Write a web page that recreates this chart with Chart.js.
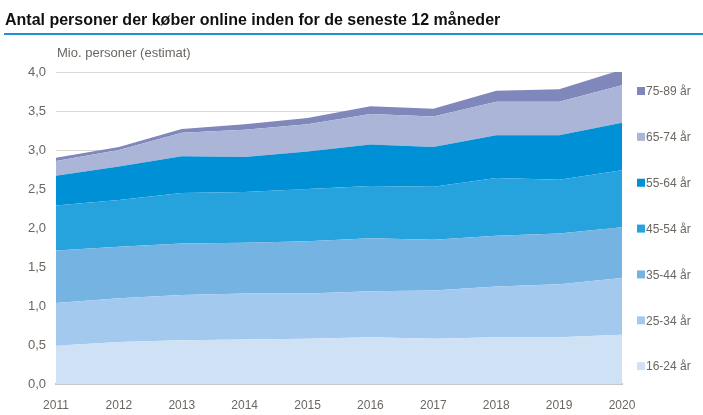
<!DOCTYPE html>
<html lang="da">
<head>
  <meta charset="utf-8">
  <title>Antal personer der køber online</title>
  <script src="https://cdn.jsdelivr.net/npm/chart.js@4.4.0/dist/chart.umd.min.js"></script>
  <style>
    html, body { margin: 0; padding: 0; background: #fff; }
    canvas { display: block; }
  </style>
</head>
<body>
  <canvas id="chart-0" width="703" height="415"></canvas>

  <script>
    const years = ['2011', '2012', '2013', '2014', '2015', '2016', '2017', '2018', '2019', '2020'];

    // mio. personer per aldersgruppe
    const age16_24 = [0.49, 0.54, 0.56, 0.57, 0.58, 0.60, 0.58, 0.60, 0.60, 0.63];
    const age25_34 = [0.55, 0.56, 0.58, 0.59, 0.58, 0.59, 0.62, 0.65, 0.68, 0.73];
    const age35_44 = [0.67, 0.66, 0.66, 0.65, 0.67, 0.68, 0.65, 0.65, 0.65, 0.65];
    const age45_54 = [0.58, 0.60, 0.65, 0.65, 0.67, 0.67, 0.68, 0.74, 0.69, 0.73];
    const age55_64 = [0.38, 0.43, 0.47, 0.45, 0.48, 0.53, 0.51, 0.55, 0.57, 0.61];
    const age65_74 = [0.19, 0.21, 0.30, 0.35, 0.35, 0.39, 0.39, 0.43, 0.43, 0.48];
    const age75_89 = [0.04, 0.04, 0.05, 0.07, 0.08, 0.10, 0.10, 0.14, 0.16, 0.20];

    const seriesLabels = ['16-24 år', '25-34 år', '35-44 år', '45-54 år', '55-64 år', '65-74 år', '75-89 år'];
    const seriesData = [age16_24, age25_34, age35_44, age45_54, age55_64, age65_74, age75_89];
    const colors = ['#cfe1f5', '#a3caee', '#74b3e2', '#26a2dd', '#0090d5', '#abb5d7', '#8088bb'];

    const titleText = 'Antal personer der køber online inden for de seneste 12 måneder';
    const axisNote = 'Mio. personer (estimat)';

    const textColor = '#6b6661';
    const fontFamily = 'Arial, "Liberation Sans", sans-serif';

    let datasets = seriesData.map(function(values, i) {
      return {
        label: seriesLabels[i],
        data: values,
        backgroundColor: colors[i],
        borderColor: colors[i],
        borderWidth: 0,
        pointRadius: 0,
        tension: 0,
        fill: i === 0 ? 'origin' : '-1'
      };
    });

    // title, blue rule, axis note and the spread-out legend
    let decorations = {
      id: 'decorations',
      afterDraw(chart) {
        let ctx = chart.ctx;
        let area = chart.chartArea;
        ctx.save();

        ctx.fillStyle = '#111';
        ctx.font = 'bold 16px ' + fontFamily;
        ctx.textBaseline = 'alphabetic';
        ctx.textAlign = 'left';
        ctx.fillText(titleText, 5, 25);

        ctx.strokeStyle = '#1f8fd6';
        ctx.lineWidth = 2;
        ctx.beginPath();
        ctx.moveTo(4, 34);
        ctx.lineTo(703, 34);
        ctx.stroke();

        ctx.fillStyle = textColor;
        ctx.font = '13px ' + fontFamily;
        ctx.fillText(axisNote, area.left + 1, 57);

        // legend, top entry = last dataset
        let step = (area.bottom - area.top) * 0.147;
        ctx.font = '12px ' + fontFamily;
        ctx.textBaseline = 'middle';
        for (let i = 0; i < seriesLabels.length; i++) {
          let idx = seriesLabels.length - 1 - i;
          let y = area.top + 19 + i * step;
          ctx.fillStyle = colors[idx];
          ctx.fillRect(area.right + 15, y - 4, 8, 8);
          ctx.fillStyle = textColor;
          ctx.fillText(seriesLabels[idx], area.right + 24, y + 1);
        }
        ctx.restore();
      }
    };

    let chart = new Chart('chart-0', {
      type: 'line',
      data: {
        labels: years,
        datasets: datasets
      },
      options: {
        responsive: false,
        animation: false,
        layout: {
          padding: { top: 72, right: 81, bottom: 5, left: 0 }
        },
        plugins: {
          legend: { display: false },
          tooltip: { enabled: false },
          filler: { propagate: false }
        },
        scales: {
          x: {
            grid: { display: false, drawTicks: false },
            border: { display: true, color: '#c6c6c6', width: 2 },
            ticks: {
              color: textColor,
              font: { family: fontFamily, size: 12 },
              padding: 14,
              maxRotation: 0
            },
            afterFit: function(scale) { scale.height = 26; }
          },
          y: {
            stacked: true,
            min: 0,
            max: 4,
            grid: { color: '#dadad2', lineWidth: 1, drawTicks: false },
            border: { display: false },
            ticks: {
              stepSize: 0.5,
              color: textColor,
              font: { family: fontFamily, size: 13 },
              padding: 10,
              callback: function(v) { return v.toFixed(1).replace('.', ','); }
            },
            afterFit: function(scale) { scale.width = 56; }
          }
        }
      },
      plugins: [decorations]
    });
  </script>
</body>
</html>
